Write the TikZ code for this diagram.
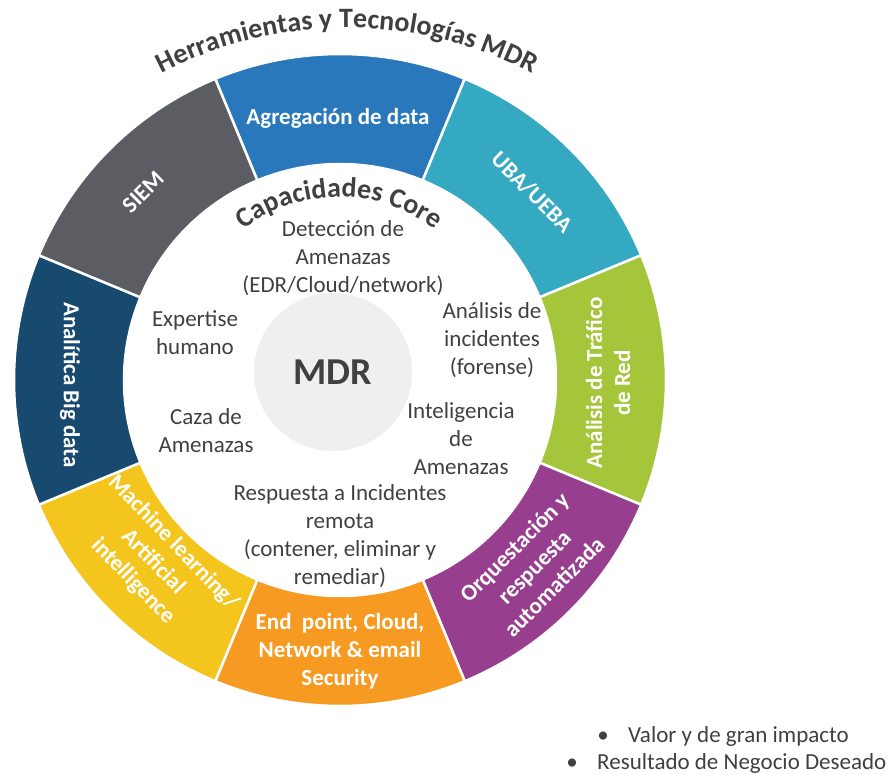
\documentclass[tikz,border=0pt]{standalone}
\usepackage{fontspec}
\setmainfont{Carlito}
\usetikzlibrary{decorations.text}

\definecolor{siemgray}{HTML}{5C5D62}
\definecolor{agregblue}{HTML}{2A78BC}
\definecolor{ubateal}{HTML}{35A9C1}
\definecolor{trafgreen}{HTML}{A5C63B}
\definecolor{orqpurple}{HTML}{983E8F}
\definecolor{endorange}{HTML}{F79A22}
\definecolor{mlyellow}{HTML}{F4C51D}
\definecolor{bignavy}{HTML}{174A6E}
\definecolor{txtgray}{HTML}{404040}
\definecolor{mdrfill}{HTML}{EFEFEF}

\begin{document}
\begin{tikzpicture}[x=1pt,y=1pt,
  seg/.style={draw=white, line width=2.5pt},
  seglabel/.style={text=white, font=\fontsize{23}{28}\selectfont\bfseries, align=center, inner sep=0pt},
  core/.style={text=txtgray, font=\fontsize{23}{28}\selectfont, align=center, inner sep=0pt},
  arctitle/.style={decorate, decoration={text along path, text align=center, text color=txtgray,
      text={|\fontsize{28}{32}\selectfont\bfseries|#1}}},
]
\useasboundingbox (0,0) rectangle (893,774);

% ring of tool segments
\coordinate (C) at (340,394);
\foreach \a/\col in {90/agregblue, 45/ubateal, 0/trafgreen, -45/orqpurple,
                     -90/endorange, -135/mlyellow, 180/bignavy, 135/siemgray}{
  \path[seg, fill=\col]
    ([shift={(\a-22.5:216)}]C) -- ([shift={(\a-22.5:326)}]C)
    arc[start angle=\a-22.5, end angle=\a+22.5, radius=326]
    -- ([shift={(\a+22.5:216)}]C)
    arc[start angle=\a+22.5, end angle=\a-22.5, radius=216] -- cycle;
}

% central disc
\node[circle, fill=mdrfill, minimum size=158pt, inner sep=0pt, text=txtgray,
      font=\fontsize{38}{44}\selectfont\bfseries] (mdr) at (333,402) {MDR};

% curved headings
\coordinate (T) at (347,344);
\path[arctitle={Herramientas y Tecnologías MDR}]
  ([shift={(160:402)}]T) arc[start angle=160, end angle=20, radius=402];
\coordinate (K) at (339,419);
\path[arctitle={Capacidades Core}]
  ([shift={(170:158)}]K) arc[start angle=170, end angle=10, radius=158];

% segment labels
\node[seglabel] (agreg) at (338,656) {Agregación de data};
\node[seglabel, rotate=45] (siem) at (143,582) {SIEM};
\node[seglabel, rotate=-45] (uba) at (532,582) {UBA/UEBA};
\node[seglabel, rotate=90] (traf) at (608,391) {Análisis de Tráfico\\de Red};
\node[seglabel, rotate=-90] (big) at (70,389) {Analítica Big data};
\node[seglabel, rotate=45] (orq) at (534,207) {Orquestación y\\respuesta\\automatizada};
\node[seglabel] (endp) at (340,123) {End\hspace{0.45em}point, Cloud,\\Network \& email\\Security};
\node[seglabel, rotate=-46] (ml) at (153,212) {Machine learning/\\Artificial\\intelligence};

% core capabilities
\node[core] (det) at (343,516) {Detección de\\Amenazas\\(EDR/Cloud/network)};
\node[core] (exp) at (195,441) {Expertise\\humano};
\node[core] (caza) at (206,343) {Caza de\\Amenazas};
\node[core] (ana) at (492,434) {Análisis de\\incidentes\\(forense)};
\node[core] (intel) at (461,335) {Inteligencia\\de\\Amenazas};
\node[core] (resp) at (340,238) {Respuesta a Incidentes\\remota\\(contener, eliminar y\\remediar)};

% outcomes
\node[core, anchor=base] (dot1) at (603,32) {\textbullet};
\node[core, anchor=base west] (out1) at (628,32) {Valor y de gran impacto};
\node[core, anchor=base] (dot2) at (572,5) {\textbullet};
\node[core, anchor=base west] (out2) at (597,5) {Resultado de Negocio Deseado};
\end{tikzpicture}
\end{document}
